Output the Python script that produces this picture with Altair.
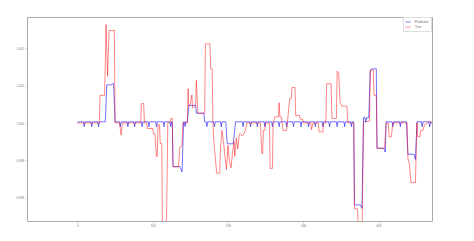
import altair as alt
import pandas as pd

# ---- data (offsets in units of 1e-3 around 1.000) ----
pred_knot_x = [0, 1, 37, 39, 45, 46, 48, 50, 126, 127, 136, 137, 139, 141, 146, 148, 157, 158,
               168, 169, 197, 199, 207, 210, 367, 368, 376, 378, 380, 382, 383, 384, 387, 389,
               391, 397, 398, 407, 409, 410, 437, 439, 447, 449, 451, 471]
pred_knot_d = [0.0, 0.03, 0.03, 1.02, 1.02, 1.05, 1.05, 0.03, 0.03, -1.17, -1.17, -1.22, -1.31, 0.03,
               0.03, 0.47, 0.47, 0.26, 0.26, 0.03, 0.03, -0.56, -0.56, 0.03, 0.03, -2.2, -2.2, -2.29,
               0.14, 0.14, 0.02, 0.14, 0.14, 1.42, 1.45, 1.45, -0.68, -0.68, -0.78, 0.03, 0.03, -0.84,
               -0.84, -0.98, 0.03, 0.0]
pred_dip_x = [9, 19, 28, 57, 67, 76, 86, 95, 105, 115, 124, 143, 172, 182, 191, 220, 230, 239,
              249, 259, 268, 278, 287, 297, 307, 316, 326, 335, 345, 355, 364, 419, 429, 458, 468]
PRED_BASE = 0.03
PRED_DIP = -0.1

true_x = [0, 29, 30, 36, 37, 38, 40, 42, 49, 50, 56, 58, 60, 84, 85, 88, 89, 92, 93, 100, 101, 103,
          105, 106, 107, 109, 110, 112, 113, 118, 120, 123, 124, 126, 127, 134, 135, 136, 139, 140,
          146, 147, 148, 150, 152, 153, 157, 158, 160, 169, 170, 176, 177, 179, 180, 181, 183, 185,
          189, 190, 192, 194, 196, 198, 200, 202, 204, 206, 208, 209, 211, 213, 215, 217, 219, 221,
          223, 225, 243, 245, 246, 247, 249, 250, 255, 256, 259, 260, 262, 267, 268, 269, 271, 273,
          278, 280, 282, 284, 285, 289, 290, 295, 296, 299, 300, 310, 311, 313, 320, 321, 326, 327,
          330, 331, 337, 338, 344, 345, 347, 349, 351, 358, 359, 367, 368, 372, 374, 378, 380, 388,
          389, 393, 394, 397, 398, 408, 410, 413, 414, 417, 419, 438, 439, 441, 443, 449, 451, 452,
          455, 456, 459, 461, 465, 468, 471]
true_d = [0, 0, 0.74, 0.74, 1.55, 2.64, 1.25, 2.48, 2.48, 0, 0, -0.33, 0, 0, 0.52, 0.52, 0, 0, -0.15,
          -0.15, -0.3, -0.3, -0.9, -0.9, -0.05, -0.05, -0.55, -0.55, -3.2, -3.2, 0, 0, 0.12, 0.12,
          -1.18, -1.18, -0.95, -0.65, -0.62, 0, 0, 0.92, 0.45, 0.5, 0.75, 0.4, 0.45, 1.14, 0.26, 0.26,
          2.12, 2.12, 1.45, 1.45, 0, -0.45, -0.9, -1.35, -1.35, -0.7, -0.2, -0.5, -0.9, -1.25, -0.6,
          -1.05, -1.2, -0.8, -0.5, -0.9, -0.4, -0.7, -0.3, -0.3, -0.35, -0.3, -0.2, 0, 0, -0.82,
          -0.82, -0.2, -0.2, 0, 0, -1.22, -1.22, 0, 0.16, 0.16, 0.54, 0.16, 0.16, -0.2, -0.2, 0.25,
          0.65, 0.65, 0.95, 0.95, 0.2, 0.2, 0.1, 0.1, 0, 0, -0.18, 0, 0, -0.24, -0.24, 0, 0, 1.05,
          1.05, 0.12, 0.12, 1.39, 1.33, 0.54, 0.45, 0.45, 0, 0, -2.3, -2.3, -3.2, -3.2, 0.02, 0.05,
          1.42, 1.42, 0.74, 0.74, -0.68, -0.68, 0, 0, -0.37, -0.37, 0, 0, -0.96, -1.1, -1.6, -1.6,
          0, -0.37, -0.37, -0.2, -0.2, -0.05, 0, 0.05, -0.02]

x_ticks = [0, 100, 200, 300, 400]
y_ticks = [0.998, 0.999, 1.000, 1.001, 1.002]
series = ["Prediction", "True"]

# ---- build table ----
pts = dict(zip(pred_knot_x, pred_knot_d))
for dx in pred_dip_x:
    pts[dx - 1] = PRED_BASE
    pts[dx] = PRED_DIP
    pts[dx + 1] = PRED_BASE
px = sorted(pts)
pred = pd.DataFrame({"x": px, "y": [1 + pts[k] / 1000 for k in px], "s": series[0]})
true = pd.DataFrame({"x": true_x, "y": [1 + d / 1000 for d in true_d], "s": series[1]})
df = pd.concat([pred, true], ignore_index=True)

chart = alt.Chart(df).mark_line(clip=True, strokeWidth=0.8).encode(
    x=alt.X("x:Q", scale=alt.Scale(domain=[-67, 471], nice=False, zero=False),
            axis=alt.Axis(values=x_ticks, title=None, grid=False, format="d")),
    y=alt.Y("y:Q", scale=alt.Scale(domain=[0.99737, 1.00284], nice=False, zero=False),
            axis=alt.Axis(values=y_ticks, title=None, grid=False, format=".3f")),
    color=alt.Color("s:N", scale=alt.Scale(domain=series, range=["blue", "red"]),
                    legend=alt.Legend(title=None, orient="none", legendX=376, legendY=0,
                                      symbolType="stroke", symbolSize=25, symbolStrokeWidth=0.7,
                                      symbolOpacity=0.7,
                                      labelFontSize=3, labelColor="#666", rowPadding=0,
                                      padding=2, strokeColor="#ddd", fillColor="white",
                                      labelLimit=100)),
    opacity=alt.Opacity("s:N", scale=alt.Scale(domain=series, range=[0.7, 0.6]), legend=None),
    order=alt.Order("x:Q"),
).properties(
    width=405, height=204,
    autosize=alt.AutoSizeParams(type="none"),
    padding={"left": 27, "top": 17, "right": 42, "bottom": 20},
).configure_view(
    stroke="#aaa", strokeWidth=1
).configure_axis(
    domain=False, tickColor="#aaa", tickSize=2, tickWidth=0.5,
    labelFontSize=3, labelColor="#777", labelFont="Liberation Sans", labelPadding=1.5
).configure_legend(labelFont="Liberation Sans")

chart.save("out.html", embed_options={"renderer": "svg", "actions": False})
